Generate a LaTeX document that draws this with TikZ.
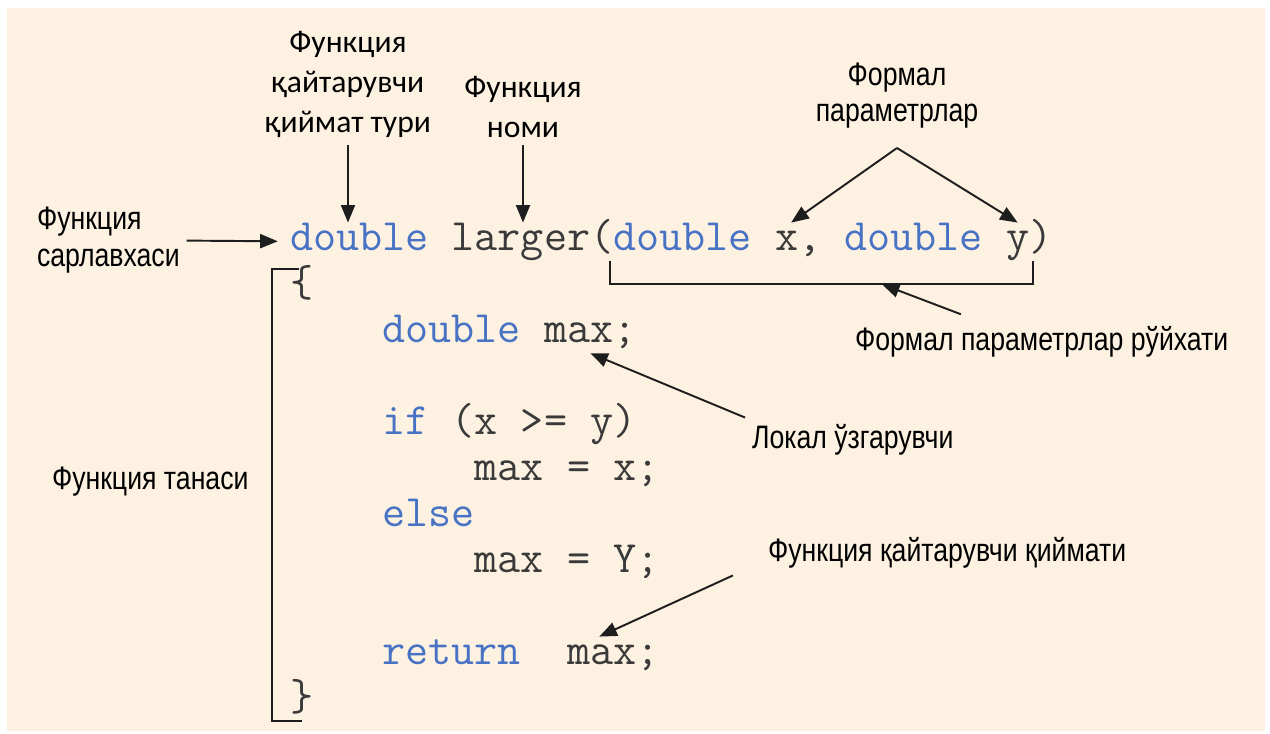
\documentclass[tikz,border=0pt]{standalone}
\usepackage{fontspec}
\usepackage{tikz}
\usetikzlibrary{arrows.meta, positioning}
\newfontfamily\narrowfont{Liberation Sans}[FakeStretch=0.82]
\newfontfamily\calfont{Carlito}
\definecolor{pagecream}{RGB}{253,241,226}
\definecolor{codeblue}{RGB}{72,114,196}
\definecolor{codegray}{RGB}{58,58,58}
\definecolor{inkdark}{RGB}{30,30,30}
% column / row of the code grid (px)
\newcommand{\colx}[1]{286.5+23.1*#1}
\newcommand{\rowy}[1]{250+46*#1}
\tikzset{
  code/.style={
    anchor=base west, inner sep=0pt, outer sep=2pt,
    text height=13.6pt, text depth=4.4pt,
    font=\fontsize{25.5}{26}\ttfamily, text=codegray
  },
  kw/.style={code, text=codeblue},
  note/.style={
    inner sep=2pt, outer sep=2pt,
    font=\fontsize{18.5}{21}\narrowfont, text=black
  },
  notecal/.style={note, align=center, font=\fontsize{18}{22.8}\calfont},
  arr/.style={-{Triangle[length=10pt,width=8pt]}, line width=1.1pt, draw=inkdark},
  bar/.style={line width=1.1pt, draw=inkdark}
}
\begin{document}
\begin{tikzpicture}[x=0.02cm, y=-0.02cm]
  \fill[white] (0,0) rectangle (1270,733);
  \fill[pagecream] (7,8) rectangle (1265,731);

  % header
  \node[kw] (hret) at (\colx{0},\rowy{0}) {double};
  \node[code] (hname) at (\colx{7},\rowy{0}) {larger(};
  \node[kw] (parA) at (\colx{14},\rowy{0}) {double};
  \node[code] (parx) at (\colx{21},\rowy{0}) {x,};
  \node[kw] (parB) at (\colx{24},\rowy{0}) {double};
  \node[code] (pary) at (\colx{31},\rowy{0}) {y};
  \node[code] (hclose) at (\colx{32},\rowy{0}) {)};

  % body
  \node[code] (obrace) at (\colx{0},\rowy{1}) {\{};
  \node[kw] (kwmax) at (\colx{4},\rowy{2}) {double};
  \node[code] (maxdecl) at (\colx{11},\rowy{2}) {max;};
  \node[kw] (kwif) at (\colx{4},\rowy{4}) {if};
  \node[code] (cond) at (\colx{7},\rowy{4}) {(x >= y)};
  \node[code] (thenln) at (\colx{8},\rowy{5}) {max = x;};
  \node[kw] (kwelse) at (\colx{4},\rowy{6}) {else};
  \node[code] (elseln) at (\colx{8},\rowy{7}) {max = Y;};
  \node[kw] (kwret) at (\colx{4},\rowy{9}) {return};
  \node[code] (retmax) at (\colx{12},\rowy{9}) {max;};
  \node[code] (cbrace) at (\colx{0},\rowy{10}) {\}};

  % labels
  \node[notecal, anchor=south] (lblret) at (348,145) {Функция\\қайтарувчи\\қиймат тури};
  \node[notecal, anchor=south] (lblname) at (523,145) {Функция\\номи};
  \node[note, align=center, anchor=south, outer sep=9pt] (lblpar) at (897,148) {Формал\\параметрлар};
  \node[note, align=left, anchor=west] (lblhead) at (30,240) {Функция\\сарлавхаси};
  \node[note, anchor=west] (lblbody) at (45,482) {Функция танаси};
  \node[note, anchor=west] (lbllist) at (848,342) {Формал параметрлар рўйхати};
  \node[note, anchor=west] (lbllok) at (745,440) {Локал ўзгарувчи};
  \node[note, anchor=west] (lblrv) at (761,553) {Функция қайтарувчи қиймати};

  % arrows
  \draw[arr] (lblret.south) -- (lblret.south |- hret.north);
  \draw[arr] (lblname.south) -- (lblname.south |- hname.north);
  \draw[arr, shorten >=5pt] (lblhead) -- (hret);
  \draw[arr] (lblpar.south) -- ([xshift=-4pt]parx.north);
  \draw[arr] (lblpar.south) -- (pary.north);
  \draw[bar] (parA.south west) -- ++(0,23) -| (pary.south east);
  \path (parA.south west) ++(272,23) coordinate (brhead);
  \draw[arr] ([shift={(-46pt,3pt)}]lbllist.north) -- (brhead);
  \draw[arr] (lbllok.north west) -- (maxdecl.south);
  \draw[arr] ([xshift=-16pt]lblrv.south west) -- ([xshift=-8pt]retmax.north);
  \draw[bar] ([xshift=7pt]obrace.north west) -- ++(-27,0) |- ([xshift=9pt]cbrace.south west);
\end{tikzpicture}
\end{document}
